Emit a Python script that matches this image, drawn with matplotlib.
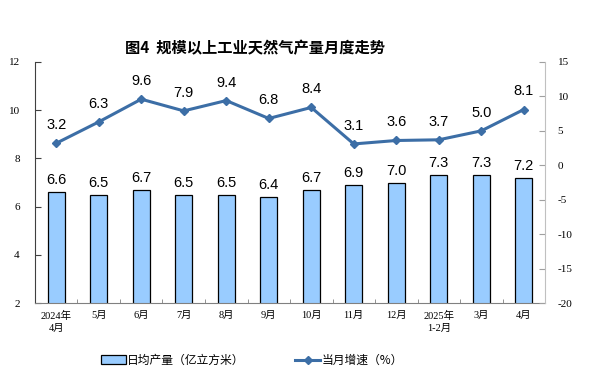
import matplotlib
matplotlib.use("Agg")
import matplotlib.pyplot as plt
import numpy as np
from matplotlib.patches import Patch
from matplotlib.lines import Line2D

categories = ["2024年\n4月", "5月", "6月", "7月", "8月", "9月", "10月", "11月", "12月", "2025年\n1-2月", "3月", "4月"]
daily_output = [6.6, 6.5, 6.7, 6.5, 6.5, 6.4, 6.7, 6.9, 7.0, 7.3, 7.3, 7.2]
growth = [3.2, 6.3, 9.6, 7.9, 9.4, 6.8, 8.4, 3.1, 3.6, 3.7, 5.0, 8.1]
left_ticks = [2, 4, 6, 8, 10, 12]
right_ticks = [-20, -15, -10, -5, 0, 5, 10, 15]

cjk = ['Noto Sans CJK SC', 'DejaVu Sans']
serif_cjk = ['Liberation Serif', 'Noto Sans CJK SC']
num_font = ['Liberation Sans', 'DejaVu Sans']

fig = plt.figure(figsize=(5.91, 3.82), dpi=100)
ax = fig.add_axes([0.0592, 0.2068, 0.8630, 0.6309])
x = np.arange(len(categories))

ax.bar(x, daily_output, width=0.4, color="#99CCFF", edgecolor="black", linewidth=0.9, zorder=2)
ax.set_ylim(2, 12)
ax.set_xlim(-0.5, len(categories) - 0.5)
ax.set_yticks(left_ticks)
ax.set_yticklabels([str(v) for v in left_ticks], family=serif_cjk, fontsize=8)
for xi, v in zip(x, daily_output):
    ax.text(xi, v + 0.2, f"{v:.1f}", ha="center", va="bottom", fontsize=10.5, family=num_font, color="black")

ax.set_xticks(x)
ax.set_xticklabels(categories, family=serif_cjk, fontsize=7.5, linespacing=1.4)
ax.tick_params(axis="x", length=0, pad=6)
ax.set_xticks(np.arange(-0.5, len(categories), 1.0), minor=True)
ax.tick_params(axis="x", which="minor", direction="in", length=3, color="#808080")
ax.tick_params(axis="y", direction="in", length=4, color="#404040", pad=11)

ax.spines["top"].set_visible(False)
ax.spines["right"].set_visible(False)
ax.spines["left"].set_color("#404040")
ax.spines["bottom"].set_color("#808080")

ax2 = ax.twinx()
ax2.set_ylim(-20, 15)
ax2.set_yticks(right_ticks)
ax2.set_yticklabels([str(v) for v in right_ticks], family=serif_cjk, fontsize=8)
ax2.tick_params(axis="y", direction="in", length=4, color="#A0A0A0", pad=9)
ax2.spines["top"].set_visible(False)
ax2.spines["left"].set_visible(False)
ax2.spines["bottom"].set_visible(False)
ax2.spines["right"].set_color("#C0C0C0")
ax2.plot(x, growth, color="#3C6EA6", linewidth=2.2, marker="D", markersize=4.5, zorder=3)
for xi, v in zip(x, growth):
    ax2.text(xi, v + 1.6, f"{v:.1f}", ha="center", va="bottom", fontsize=10.5, family=num_font, color="black")

fig.text(0.431, 0.874, "图4  规模以上工业天然气产量月度走势", ha="center", va="center", fontsize=11, family=cjk, fontweight="bold")

h1 = Patch(facecolor="#99CCFF", edgecolor="black", linewidth=0.9)
h2 = Line2D([0], [0], color="#3C6EA6", linewidth=2.2, marker="D", markersize=4)
fig.legend([h1, h2], ["日均产量（亿立方米）", "当月增速（%）"], loc="center", bbox_to_anchor=(0.426, 0.057),
           ncol=2, frameon=False, prop={"family": cjk, "size": 8.5}, handlelength=2.1, handleheight=0.7,
           handletextpad=0.1, columnspacing=4.3)

fig.savefig("out.png", dpi=100)
